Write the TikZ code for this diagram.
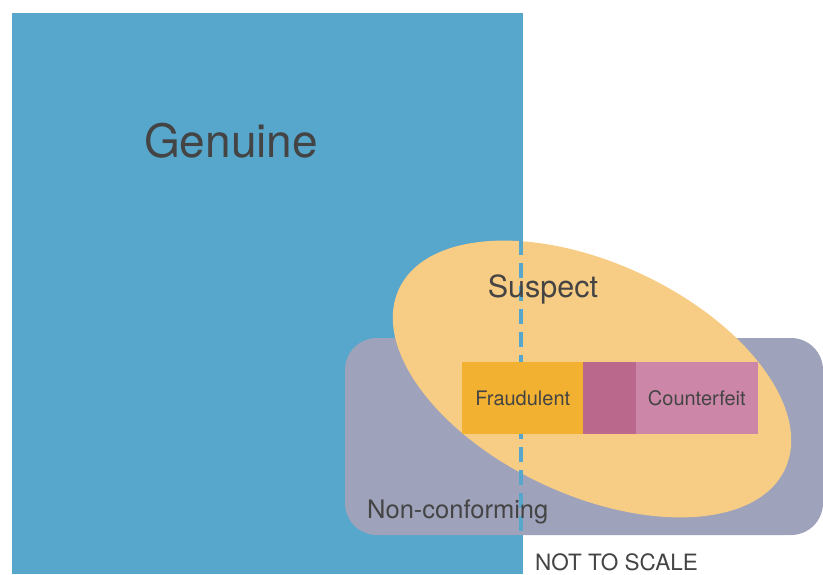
\documentclass[tikz,border=0pt]{standalone}
\usepackage{fontspec}
\setmainfont{TeX Gyre Heros}

\definecolor{genblue}{HTML}{57A6CB}
\definecolor{ncgray}{HTML}{9EA2BA}
\definecolor{suspyellow}{HTML}{F7CC84}
\definecolor{fraudorange}{HTML}{F2B130}
\definecolor{overlap}{HTML}{BA688C}
\definecolor{cfpink}{HTML}{CC86A7}
\definecolor{txtgray}{HTML}{444444}

\tikzset{
  lbl/.style={text=txtgray, inner sep=0pt},
  part/.style={minimum height=71pt, inner sep=0pt, text=txtgray,
    fill=#1, draw=#1, line width=0.6pt, font=\fontsize{20}{24}\selectfont},
}

\begin{document}
\begin{tikzpicture}[x=1pt,y=-1pt]
\useasboundingbox (0,0) rectangle (823,574);

% the three regions
\fill[genblue] (12,13) rectangle (523,574);
\fill[ncgray, rounded corners=32pt] (345,338) rectangle (823,535);
\fill[suspyellow, rotate around={-25:(592,379)}] (592,379) ellipse [x radius=213, y radius=116];

% edge of the genuine region
\draw[genblue, line width=4pt, dash pattern=on 15pt off 8pt] (520.5,240) -- (520.5,535);

% fraudulent / counterfeit strip
\node[part=fraudorange, minimum width=120.4pt, anchor=north west] (fraud) at (462.3,362.3) {Fraudulent};
\node[part=overlap, minimum width=52.4pt, anchor=west] (both) at (fraud.east) {};
\node[part=cfpink, minimum width=120.4pt, anchor=west] (cfeit) at (both.east) {Counterfeit};

% labels
\node[lbl, font=\fontsize{46}{50}\selectfont, anchor=base] (genuine) at (231,157) {Genuine};
\node[lbl, font=\fontsize{30.5}{34}\selectfont, anchor=base] (suspect) at (543,297) {Suspect};
\node[lbl, font=\fontsize{25.5}{29}\selectfont, anchor=base west] (noncon) at (367,518) {Non-conforming};
\node[lbl, font=\fontsize{22.5}{26}\selectfont, anchor=base west] (scale) at (535,570) {NOT TO SCALE};
\end{tikzpicture}
\end{document}
